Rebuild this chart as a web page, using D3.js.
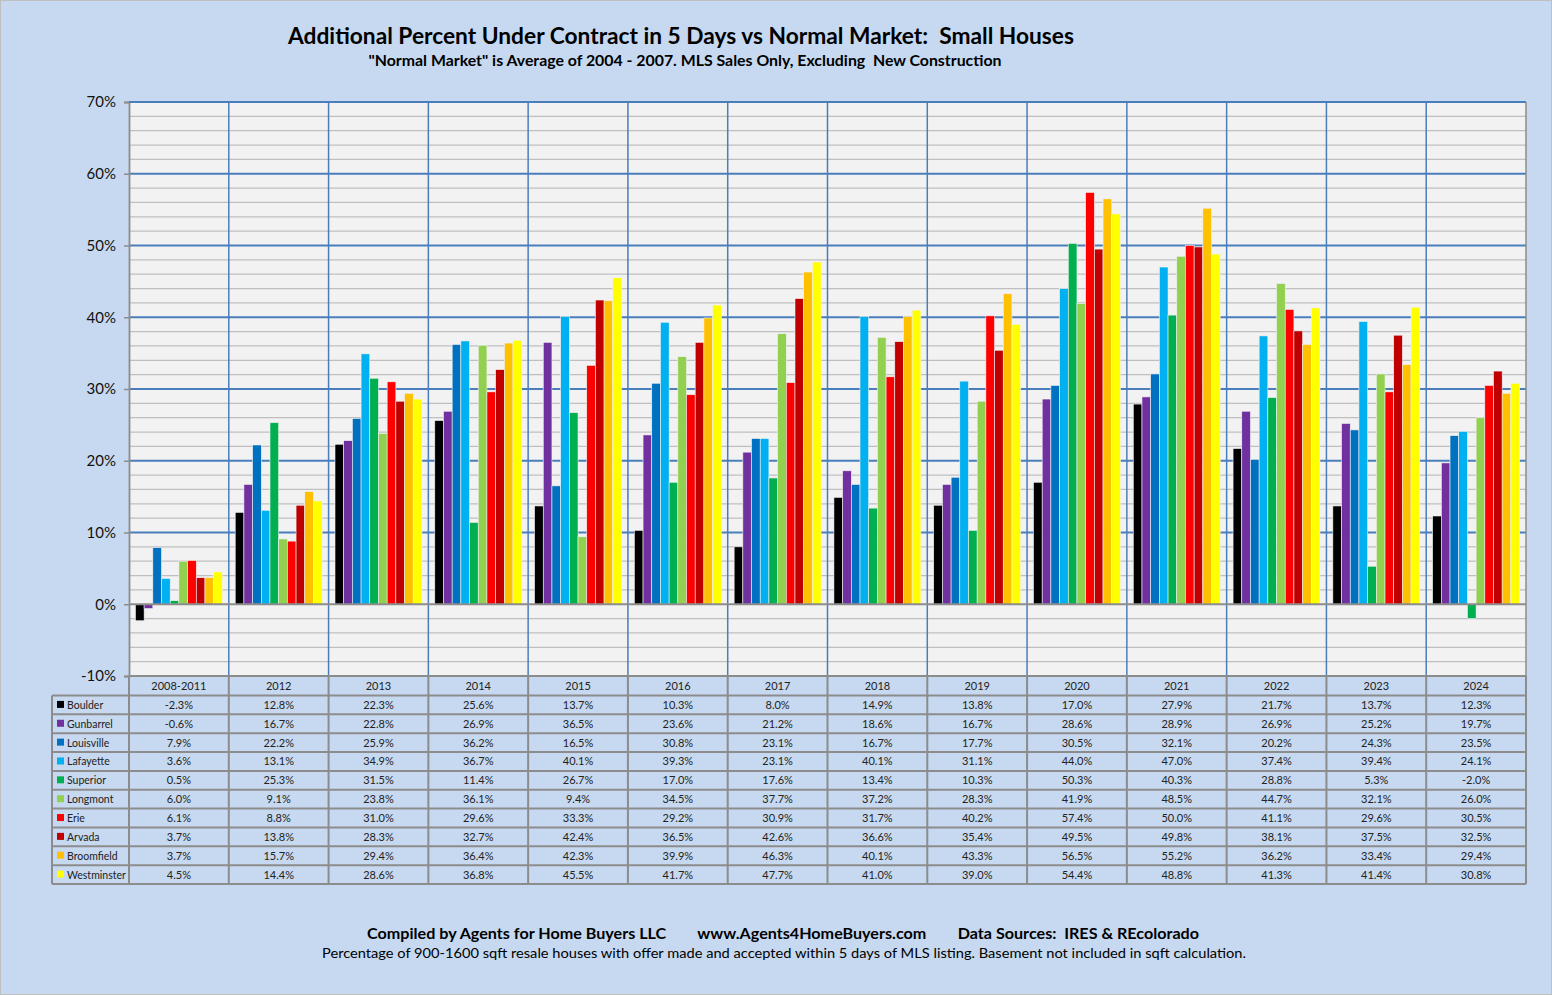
<!DOCTYPE html>
<html>
<head>
<meta charset="utf-8">
<script src="https://cdn.jsdelivr.net/npm/d3@7"></script>
<style>
  body { margin: 0; background: #c6d9f0; }
  svg { display: block; font-family: Lato, "Noto Sans", sans-serif; }
</style>
</head>
<body>
<div id="chart"></div>
<script>
const width = 1552;
const height = 995;
const plot = { left: 129, right: 1526, top: 102, bottom: 676 };
const table = { left: 52, headerH: 19.5, rowH: 18.85 };

const categories = ["2008-2011", "2012", "2013", "2014", "2015", "2016", "2017",
    "2018", "2019", "2020", "2021", "2022", "2023", "2024"];

const cities = ["Boulder", "Gunbarrel", "Louisville", "Lafayette", "Superior",
    "Longmont", "Erie", "Arvada", "Broomfield", "Westminster"];

const cityColors = ["#000000", "#7030a0", "#0070c0", "#00b0f0", "#00b050",
    "#92d050", "#ff0000", "#c00000", "#ffc000", "#ffff00"];

const boulder     = [-2.3, 12.8, 22.3, 25.6, 13.7, 10.3, 8.0, 14.9, 13.8, 17.0, 27.9, 21.7, 13.7, 12.3];
const gunbarrel   = [-0.6, 16.7, 22.8, 26.9, 36.5, 23.6, 21.2, 18.6, 16.7, 28.6, 28.9, 26.9, 25.2, 19.7];
const louisville  = [7.9, 22.2, 25.9, 36.2, 16.5, 30.8, 23.1, 16.7, 17.7, 30.5, 32.1, 20.2, 24.3, 23.5];
const lafayette   = [3.6, 13.1, 34.9, 36.7, 40.1, 39.3, 23.1, 40.1, 31.1, 44.0, 47.0, 37.4, 39.4, 24.1];
const superior    = [0.5, 25.3, 31.5, 11.4, 26.7, 17.0, 17.6, 13.4, 10.3, 50.3, 40.3, 28.8, 5.3, -2.0];
const longmont    = [6.0, 9.1, 23.8, 36.1, 9.4, 34.5, 37.7, 37.2, 28.3, 41.9, 48.5, 44.7, 32.1, 26.0];
const erie        = [6.1, 8.8, 31.0, 29.6, 33.3, 29.2, 30.9, 31.7, 40.2, 57.4, 50.0, 41.1, 29.6, 30.5];
const arvada      = [3.7, 13.8, 28.3, 32.7, 42.4, 36.5, 42.6, 36.6, 35.4, 49.5, 49.8, 38.1, 37.5, 32.5];
const broomfield  = [3.7, 15.7, 29.4, 36.4, 42.3, 39.9, 46.3, 40.1, 43.3, 56.5, 55.2, 36.2, 33.4, 29.4];
const westminster = [4.5, 14.4, 28.6, 36.8, 45.5, 41.7, 47.7, 41.0, 39.0, 54.4, 48.8, 41.3, 41.4, 30.8];

const seriesValues = [boulder, gunbarrel, louisville, lafayette, superior,
    longmont, erie, arvada, broomfield, westminster];

const majorTicks = [-10, 0, 10, 20, 30, 40, 50, 60, 70];

// one row per city, used by both the bars and the data table
const rows = cities.map((name, i) => ({ name, color: cityColors[i], values: seriesValues[i] }));

const svg = d3.select("#chart")
    .append("svg")
    .attr("width", width)
    .attr("height", height);

svg.append("rect")
    .attr("x", 0.5).attr("y", 0.5)
    .attr("width", width - 1).attr("height", height - 1)
    .attr("fill", "#c6d9f0")
    .attr("stroke", "#bfbfbf");

const x0 = d3.scaleBand()
    .domain(categories)
    .range([plot.left, plot.right]);

const x1 = d3.scaleBand()
    .domain(cities)
    .range([0, x0.bandwidth()])
    .paddingOuter(0.74);

const y = d3.scaleLinear()
    .domain([-10, 70])
    .range([plot.bottom, plot.top]);

// plot area
svg.append("rect")
    .attr("x", plot.left).attr("y", plot.top)
    .attr("width", plot.right - plot.left).attr("height", plot.bottom - plot.top)
    .attr("fill", "#f2f2f2");

// minor gridlines every 2%
svg.append("g")
    .selectAll("line")
    .data(d3.range(-8, 70, 2).filter(v => v % 10 !== 0))
    .join("line")
    .attr("x1", plot.left).attr("x2", plot.right)
    .attr("y1", d => y(d)).attr("y2", d => y(d))
    .attr("stroke", "#bfbfbf")
    .attr("stroke-width", 1.3);

// major gridlines
svg.append("g")
    .selectAll("line")
    .data(majorTicks.filter(v => v > 0))
    .join("line")
    .attr("x1", plot.left).attr("x2", plot.right)
    .attr("y1", d => y(d)).attr("y2", d => y(d))
    .attr("stroke", "#4a7ebb")
    .attr("stroke-width", 1.8);

// vertical category separators
svg.append("g")
    .selectAll("line")
    .data(categories.slice(1))
    .join("line")
    .attr("x1", d => x0(d)).attr("x2", d => x0(d))
    .attr("y1", plot.top).attr("y2", plot.bottom)
    .attr("stroke", "#4a7ebb")
    .attr("stroke-width", 1.5);

// bars
const groups = svg.append("g")
    .selectAll("g")
    .data(categories)
    .join("g")
    .attr("transform", d => `translate(${x0(d)},0)`);

groups.selectAll("rect")
    .data((d, ci) => rows.map(r => ({ name: r.name, color: r.color, value: r.values[ci] })))
    .join("rect")
    .attr("x", d => x1(d.name))
    .attr("width", x1.bandwidth())
    .attr("y", d => y(Math.max(0, d.value)))
    .attr("height", d => Math.abs(y(d.value) - y(0)))
    .attr("fill", d => d.color)
    .attr("stroke", "#f2f2f2")
    .attr("stroke-width", 0.6);

// zero line
svg.append("line")
    .attr("x1", plot.left).attr("x2", plot.right)
    .attr("y1", y(0)).attr("y2", y(0))
    .attr("stroke", "#8c8c8c")
    .attr("stroke-width", 1.8);

// y axis
const yAxis = svg.append("g")
    .attr("transform", `translate(${plot.left},0)`)
    .call(d3.axisLeft(y).tickValues(majorTicks).tickSize(5).tickPadding(8).tickFormat(d => d + "%"));

yAxis.select(".domain").attr("stroke", "#8c8c8c").attr("stroke-width", 1.8);
yAxis.selectAll(".tick line").attr("stroke", "#8c8c8c").attr("stroke-width", 1.5);
yAxis.selectAll(".tick text")
    .attr("font-size", 15)
    .attr("fill", "#111")
    .attr("font-family", "Lato, sans-serif");

svg.append("line")
    .attr("x1", plot.right).attr("x2", plot.right)
    .attr("y1", plot.top).attr("y2", plot.bottom)
    .attr("stroke", "#8c8c8c")
    .attr("stroke-width", 1.5);

svg.append("line")
    .attr("x1", plot.left).attr("x2", plot.right)
    .attr("y1", plot.top).attr("y2", plot.top)
    .attr("stroke", "#4a7ebb")
    .attr("stroke-width", 2);

// data table
const tableTop = plot.bottom;
const bodyTop = tableTop + table.headerH;
const tableBottom = bodyTop + rows.length * table.rowH;
const tg = svg.append("g");
const borderColor = "#8c8c8c";

tg.selectAll("text.head")
    .data(categories)
    .join("text")
    .attr("class", "head")
    .attr("x", d => x0(d) + x0.bandwidth() / 2)
    .attr("y", tableTop + table.headerH / 2 + 4)
    .attr("text-anchor", "middle")
    .attr("font-size", 11)
    .attr("fill", "#222")
    .text(d => d);

const rowG = tg.selectAll("g.row")
    .data(rows)
    .join("g")
    .attr("class", "row")
    .attr("transform", (d, i) => `translate(0,${bodyTop + i * table.rowH})`);

rowG.append("rect")
    .attr("x", table.left + 5)
    .attr("y", table.rowH / 2 - 4)
    .attr("width", 7).attr("height", 7)
    .attr("fill", d => d.color);

rowG.append("text")
    .attr("x", table.left + 15)
    .attr("y", table.rowH / 2 + 4)
    .attr("font-size", 10.5)
    .attr("fill", "#222")
    .text(d => d.name);

rowG.selectAll("text.val")
    .data(d => d.values.map((v, ci) => ({ v, cat: categories[ci] })))
    .join("text")
    .attr("class", "val")
    .attr("x", d => x0(d.cat) + x0.bandwidth() / 2)
    .attr("y", table.rowH / 2 + 4)
    .attr("text-anchor", "middle")
    .attr("font-size", 11)
    .attr("fill", "#222")
    .text(d => d.v.toFixed(1) + "%");

// table grid
const hLines = [tableTop, bodyTop].concat(rows.map((r, i) => bodyTop + (i + 1) * table.rowH));
tg.selectAll("line.h")
    .data(hLines)
    .join("line")
    .attr("class", "h")
    .attr("x1", (d, i) => i === 0 ? plot.left : table.left)
    .attr("x2", plot.right)
    .attr("y1", d => d).attr("y2", d => d)
    .attr("stroke", borderColor)
    .attr("stroke-width", 2);

const vLines = [table.left].concat(categories.map(c => x0(c)), [plot.right]);
tg.selectAll("line.v")
    .data(vLines)
    .join("line")
    .attr("class", "v")
    .attr("x1", d => d).attr("x2", d => d)
    .attr("y1", d => d === table.left ? bodyTop : tableTop)
    .attr("y2", tableBottom)
    .attr("stroke", borderColor)
    .attr("stroke-width", 2);

// titles
svg.append("text")
    .attr("x", 681).attr("y", 44)
    .attr("text-anchor", "middle")
    .attr("font-size", 22).attr("font-weight", "bold")
    .attr("xml:space", "preserve")
    .attr("textLength", 786).attr("lengthAdjust", "spacingAndGlyphs")
    .text("Additional Percent Under Contract in 5 Days vs Normal Market:  Small Houses");

svg.append("text")
    .attr("x", 685).attr("y", 66)
    .attr("text-anchor", "middle")
    .attr("font-size", 15).attr("font-weight", "bold")
    .attr("xml:space", "preserve")
    .attr("textLength", 633).attr("lengthAdjust", "spacingAndGlyphs")
    .text("\"Normal Market\" is Average of 2004 - 2007. MLS Sales Only, Excluding  New Construction");

// footer
svg.append("text")
    .attr("x", 783).attr("y", 939)
    .attr("text-anchor", "middle")
    .attr("font-size", 15).attr("font-weight", "bold")
    .attr("xml:space", "preserve")
    .attr("textLength", 832).attr("lengthAdjust", "spacingAndGlyphs")
    .text("Compiled by Agents for Home Buyers LLC        www.Agents4HomeBuyers.com        Data Sources:  IRES & REcolorado");

svg.append("text")
    .attr("x", 784).attr("y", 958)
    .attr("text-anchor", "middle")
    .attr("font-size", 14)
    .attr("textLength", 924).attr("lengthAdjust", "spacingAndGlyphs")
    .text("Percentage of 900-1600 sqft resale houses with offer made and accepted within 5 days of MLS listing. Basement not included in sqft calculation.");
</script>
</body>
</html>
